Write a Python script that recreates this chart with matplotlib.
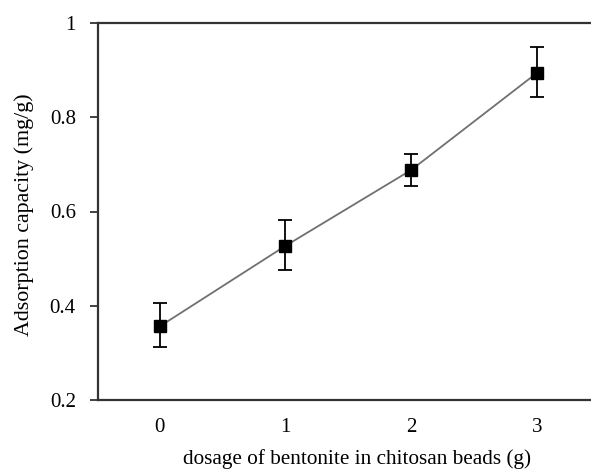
import numpy as np
import matplotlib.pyplot as plt

plt.rcParams['font.family'] = ['Liberation Serif', 'DejaVu Serif']

dosage = [0, 1, 2, 3]
capacity = [0.356, 0.527, 0.688, 0.894]
err_low = [0.043, 0.052, 0.034, 0.051]
err_high = [0.049, 0.056, 0.034, 0.055]

fig = plt.figure(figsize=(5.91, 4.71), dpi=100)
ax = fig.add_axes([98/591, 71/471, 493/591, 377/471])

ax.plot(dosage, capacity, '-', color='#707070', lw=1.3, zorder=1)
ax.errorbar(dosage, capacity, yerr=[err_low, err_high], fmt='s', color='black',
            ms=8.5, ecolor='black', elinewidth=1.3, capsize=5, capthick=1.3, zorder=2)

ax.set_xlim(-0.49, 3.43)
ax.set_ylim(0.2, 1.0)
ax.set_xticks(dosage)
ax.set_xticklabels(['0', '1', '2', '3'])
ax.set_yticks([0.2, 0.4, 0.6, 0.8, 1.0])
ax.set_yticklabels(['0.2', '0.4', '0.6', '0.8', '1'])
ax.tick_params(axis='x', length=0, pad=13, labelsize=15)
ax.tick_params(axis='y', length=6, width=1.3, color='#333333', pad=10, labelsize=15)

for s in ['left', 'top', 'bottom']:
    ax.spines[s].set_linewidth(1.6)
    ax.spines[s].set_color('#333333')
ax.spines['right'].set_visible(False)

ax.set_xlabel('dosage of bentonite in chitosan beads (g)', fontsize=15.3, labelpad=8.5)
ax.xaxis.label.set_x(0.526)
ax.set_ylabel('Adsorption capacity (mg/g)', fontsize=15.8, labelpad=11)
ax.yaxis.label.set_y(0.491)

fig.savefig('out.png', dpi=100)
